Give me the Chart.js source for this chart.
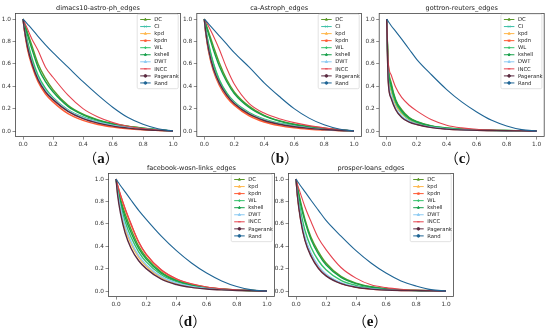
<!DOCTYPE html>
<html>
<head>
<meta charset="utf-8">
<script src="https://cdn.jsdelivr.net/npm/chart.js@4.4.1/dist/chart.umd.min.js"></script>
<style>
body{margin:0;width:550px;height:333px;background:#fff;position:relative;overflow:hidden}
canvas{position:absolute}
.lab{position:absolute;font-weight:bold;font-size:14px;transform:translate(-50%,-50%);white-space:nowrap;color:#111}
.lab .p{font-family:"Noto Sans CJK SC";font-weight:normal}
.lab .t{font-family:"Liberation Serif";font-weight:bold;font-size:15px}
</style>
</head>
<body>
<script>
// fraction of nodes removed (x) shared by all curves
var xs = [0, 0.01, 0.03, 0.06, 0.1, 0.15, 0.2, 0.3, 0.4, 0.5, 0.6, 0.7, 0.8, 0.9, 1.0];
var tickVals = [0, 0.2, 0.4, 0.6, 0.8, 1.0];

// (a) dimacs10-astro-ph
var a_DC       = [1,0.96,0.88,0.76,0.6,0.47,0.37,0.23,0.15,0.1,0.065,0.042,0.025,0.011,0];
var a_CI       = [1,0.92,0.79,0.63,0.48,0.37,0.29,0.185,0.12,0.08,0.053,0.034,0.02,0.009,0];
var a_kpd      = [1,0.9,0.75,0.6,0.46,0.355,0.285,0.18,0.115,0.073,0.046,0.028,0.016,0.007,0];
var a_kpdn     = [1,0.89,0.73,0.58,0.44,0.33,0.26,0.155,0.095,0.058,0.035,0.02,0.011,0.005,0];
var a_WL       = [1,0.93,0.8,0.65,0.5,0.38,0.3,0.19,0.125,0.083,0.055,0.035,0.021,0.009,0];
var a_kshell   = [1,0.95,0.86,0.73,0.57,0.44,0.35,0.22,0.145,0.095,0.062,0.04,0.024,0.01,0];
var a_DWT      = [1,0.9,0.76,0.61,0.47,0.36,0.29,0.185,0.12,0.078,0.05,0.031,0.018,0.008,0];
var a_INCC     = [1,0.97,0.91,0.82,0.72,0.57,0.48,0.32,0.2,0.125,0.075,0.042,0.021,0.008,0];
var a_Pagerank = [1,0.9,0.75,0.6,0.46,0.35,0.28,0.175,0.11,0.07,0.043,0.026,0.014,0.006,0];
var a_Rand     = [1,0.985,0.955,0.91,0.845,0.77,0.7,0.57,0.44,0.32,0.21,0.12,0.06,0.02,0];

// (b) ca-Astroph
var b_DC       = [1,0.96,0.88,0.76,0.61,0.46,0.35,0.22,0.14,0.092,0.06,0.04,0.025,0.011,0];
var b_CI       = [1,0.9,0.76,0.6,0.45,0.335,0.255,0.16,0.1,0.067,0.044,0.029,0.017,0.008,0];
var b_kpd      = [1,0.88,0.71,0.55,0.42,0.31,0.24,0.145,0.09,0.057,0.036,0.022,0.012,0.005,0];
var b_kpdn     = [1,0.87,0.7,0.54,0.41,0.3,0.23,0.135,0.08,0.048,0.028,0.016,0.008,0.003,0];
var b_WL       = [1,0.91,0.77,0.61,0.46,0.34,0.26,0.165,0.105,0.07,0.046,0.03,0.018,0.008,0];
var b_kshell   = [1,0.95,0.86,0.73,0.58,0.44,0.335,0.21,0.135,0.088,0.058,0.038,0.023,0.01,0];
var b_DWT      = [1,0.88,0.72,0.56,0.43,0.32,0.25,0.155,0.1,0.065,0.042,0.026,0.014,0.006,0];
var b_INCC     = [1,0.98,0.93,0.85,0.73,0.56,0.42,0.245,0.16,0.11,0.075,0.048,0.028,0.012,0];
var b_Pagerank = [1,0.88,0.72,0.56,0.43,0.32,0.245,0.15,0.094,0.06,0.038,0.023,0.013,0.005,0];
var b_Rand     = [1,0.985,0.955,0.91,0.85,0.775,0.7,0.57,0.43,0.31,0.2,0.115,0.055,0.018,0];

// (c) gottron-reuters
var c_DC       = [1,0.6,0.43,0.28,0.19,0.12,0.085,0.045,0.027,0.017,0.011,0.007,0.004,0.002,0];
var c_CI       = [1,0.53,0.36,0.235,0.155,0.1,0.07,0.038,0.022,0.013,0.008,0.005,0.003,0.001,0];
var c_kpd      = [1,0.54,0.37,0.24,0.16,0.105,0.074,0.04,0.023,0.014,0.009,0.005,0.003,0.001,0];
var c_kpdn     = [1,0.46,0.3,0.195,0.125,0.083,0.06,0.032,0.018,0.011,0.006,0.004,0.002,0.001,0];
var c_WL       = [1,0.56,0.39,0.255,0.17,0.11,0.078,0.042,0.025,0.015,0.01,0.006,0.003,0.001,0];
var c_kshell   = [1,0.58,0.41,0.27,0.18,0.115,0.082,0.044,0.026,0.016,0.01,0.006,0.004,0.002,0];
var c_DWT      = [1,0.48,0.31,0.2,0.13,0.086,0.062,0.033,0.019,0.011,0.007,0.004,0.002,0.001,0];
var c_INCC     = [1,0.62,0.5,0.39,0.3,0.23,0.18,0.1,0.052,0.028,0.015,0.009,0.005,0.002,0];
var c_Pagerank = [1,0.45,0.29,0.19,0.12,0.08,0.058,0.03,0.017,0.01,0.006,0.004,0.002,0.001,0];
var c_Rand     = [1,0.98,0.94,0.89,0.82,0.73,0.64,0.5,0.37,0.26,0.17,0.095,0.045,0.012,0];

// (d) facebook-wosn-links (no CI)
var d_DC       = [1,0.93,0.82,0.69,0.55,0.4,0.3,0.17,0.098,0.056,0.032,0.018,0.009,0.004,0];
var d_kpd      = [1,0.88,0.72,0.56,0.42,0.3,0.222,0.12,0.067,0.038,0.021,0.012,0.006,0.002,0];
var d_kpdn     = [1,0.945,0.85,0.73,0.59,0.435,0.325,0.185,0.107,0.062,0.035,0.019,0.01,0.004,0];
var d_WL       = [1,0.91,0.77,0.62,0.48,0.35,0.26,0.145,0.083,0.048,0.027,0.015,0.008,0.003,0];
var d_kshell   = [1,0.92,0.8,0.66,0.52,0.38,0.285,0.16,0.092,0.053,0.03,0.017,0.009,0.004,0];
var d_DWT      = [1,0.89,0.74,0.58,0.44,0.315,0.235,0.128,0.072,0.041,0.023,0.013,0.007,0.003,0];
var d_INCC     = [1,0.95,0.86,0.74,0.6,0.44,0.33,0.19,0.11,0.064,0.036,0.02,0.01,0.004,0];
var d_Pagerank = [1,0.86,0.69,0.52,0.38,0.27,0.2,0.105,0.058,0.032,0.018,0.01,0.005,0.002,0];
var d_Rand     = [1,0.98,0.94,0.885,0.81,0.72,0.64,0.49,0.36,0.25,0.16,0.09,0.04,0.01,0];

// (e) prosper-loans (no CI)
var e_DC       = [1,0.93,0.8,0.64,0.48,0.35,0.25,0.13,0.07,0.038,0.02,0.011,0.006,0.002,0];
var e_kpd      = [1,0.85,0.66,0.47,0.33,0.215,0.145,0.07,0.036,0.019,0.01,0.006,0.003,0.001,0];
var e_kpdn     = [1,0.85,0.65,0.46,0.32,0.21,0.14,0.068,0.035,0.018,0.01,0.005,0.003,0.001,0];
var e_WL       = [1,0.88,0.72,0.54,0.39,0.27,0.19,0.095,0.05,0.026,0.014,0.008,0.004,0.002,0];
var e_kshell   = [1,0.92,0.78,0.62,0.46,0.33,0.235,0.122,0.066,0.036,0.019,0.01,0.005,0.002,0];
var e_DWT      = [1,0.86,0.67,0.48,0.34,0.225,0.152,0.074,0.038,0.02,0.011,0.006,0.003,0.001,0];
var e_INCC     = [1,0.95,0.87,0.75,0.62,0.47,0.37,0.21,0.115,0.055,0.03,0.016,0.008,0.003,0];
var e_Pagerank = [1,0.84,0.64,0.45,0.31,0.2,0.135,0.065,0.033,0.017,0.009,0.005,0.003,0.001,0];
var e_Rand     = [1,0.98,0.94,0.885,0.81,0.72,0.63,0.49,0.36,0.25,0.16,0.09,0.045,0.012,0];

var colors = {
    DC:'#5b9a2a', CI:'#3bbfa7', kpd:'#ffb84d', kpdn:'#ff5a33', WL:'#33c26b',
    kshell:'#17a04a', DWT:'#8ccaf2', INCC:'#e5434f', Pagerank:'#5a2a40', Rand:'#1f6595'
};
var marks = {
    DC:'triangle', CI:'crossRot', kpd:'triangle', kpdn:'star', WL:'cross',
    kshell:'rectRot', DWT:'triangle', INCC:'line', Pagerank:'circle', Rand:'circle'
};

var panels = [
    {title:'dimacs10-astro-ph_edges', lab:'a', lx:101, ly:157, l:15.5, t:13.4, r:180.5, b:136.6,
     series:{DC:a_DC, CI:a_CI, kpd:a_kpd, kpdn:a_kpdn, WL:a_WL, kshell:a_kshell, DWT:a_DWT, INCC:a_INCC, Pagerank:a_Pagerank, Rand:a_Rand}},
    {title:'ca-Astroph_edges', lab:'b', lx:280, ly:157, l:196.8, t:13.4, r:361.5, b:136.6,
     series:{DC:b_DC, CI:b_CI, kpd:b_kpd, kpdn:b_kpdn, WL:b_WL, kshell:b_kshell, DWT:b_DWT, INCC:b_INCC, Pagerank:b_Pagerank, Rand:b_Rand}},
    {title:'gottron-reuters_edges', lab:'c', lx:462, ly:157, l:379.2, t:13.4, r:544.2, b:136.6,
     series:{DC:c_DC, CI:c_CI, kpd:c_kpd, kpdn:c_kpdn, WL:c_WL, kshell:c_kshell, DWT:c_DWT, INCC:c_INCC, Pagerank:c_Pagerank, Rand:c_Rand}},
    {title:'facebook-wosn-links_edges', lab:'d', lx:188, ly:320, l:108.5, t:173.4, r:274.5, b:296.6,
     series:{DC:d_DC, kpd:d_kpd, kpdn:d_kpdn, WL:d_WL, kshell:d_kshell, DWT:d_DWT, INCC:d_INCC, Pagerank:d_Pagerank, Rand:d_Rand}},
    {title:'prosper-loans_edges', lab:'e', lx:370, ly:320, l:288.5, t:173.4, r:453.5, b:296.6,
     series:{DC:e_DC, kpd:e_kpd, kpdn:e_kpdn, WL:e_WL, kshell:e_kshell, DWT:e_DWT, INCC:e_INCC, Pagerank:e_Pagerank, Rand:e_Rand}}
];

Chart.defaults.font.family = 'DejaVu Sans';
Chart.defaults.color = '#333';

// axes box, title and in-plot legend drawn like matplotlib
var figPlugin = {
    id:'fig',
    afterDatasetsDraw: function(chart){
        var ctx = chart.ctx, ca = chart.chartArea, p = chart.options.plugins.fig;
        ctx.save();
        ctx.strokeStyle = '#444';
        ctx.lineWidth = 0.8;
        ctx.strokeRect(ca.left, ca.top, ca.right - ca.left, ca.bottom - ca.top);
        ctx.fillStyle = '#222';
        ctx.font = '6.5px "DejaVu Sans"';
        ctx.textAlign = 'center';
        ctx.textBaseline = 'middle';
        ctx.fillText(p.title, (ca.left + ca.right) / 2, ca.top - 5.5);

        // legend
        var names = chart.data.datasets.map(function(d){ return d.label; });
        var step = 7.05, w = 41;
        var bx = ca.right - 2.3 - w, by = ca.top + 0.8;
        var h = names.length * step + 4;
        ctx.fillStyle = 'rgba(255,255,255,0.85)';
        ctx.strokeStyle = '#cfcfcf';
        ctx.lineWidth = 0.6;
        ctx.beginPath();
        ctx.roundRect(bx, by, w, h, 1.5);
        ctx.fill();
        ctx.stroke();
        ctx.font = '5.3px "DejaVu Sans"';
        ctx.textAlign = 'left';
        names.forEach(function(n, i){
            var y = by + 5.3 + i * step;
            ctx.strokeStyle = colors[n];
            ctx.lineWidth = 1;
            ctx.beginPath();
            ctx.moveTo(bx + 3, y);
            ctx.lineTo(bx + 13.5, y);
            ctx.stroke();
            ctx.fillStyle = colors[n];
            Chart.helpers.drawPoint(ctx, {pointStyle: marks[n], radius: 1.3, borderWidth: 0.8}, bx + 8.2, y);
            ctx.fillStyle = '#222';
            ctx.fillText(n, bx + 17, y + 0.3);
        });
        ctx.restore();
    }
};

panels.forEach(function(p){
    var cl = Math.floor(p.l) - 18, ct = Math.floor(p.t) - 14;
    var cw = Math.ceil(p.r) + 4 - cl, ch = Math.ceil(p.b) + 14 - ct;
    var cv = document.createElement('canvas');
    cv.width = cw; cv.height = ch;
    cv.style.left = cl + 'px'; cv.style.top = ct + 'px';
    cv.style.width = cw + 'px'; cv.style.height = ch + 'px';
    document.body.appendChild(cv);

    var lab = document.createElement('div');
    lab.className = 'lab';
    lab.innerHTML = '<span class="p">（</span><span class="t">' + p.lab + '</span><span class="p">）</span>';
    lab.style.left = p.lx + 'px'; lab.style.top = p.ly + 'px';
    document.body.appendChild(lab);

    var names = Object.keys(p.series);
    var datasets = names.map(function(n, i){
        return {
            label: n,
            data: xs.map(function(x, k){ return {x: x, y: p.series[n][k]}; }),
            borderColor: colors[n],
            backgroundColor: colors[n],
            borderWidth: n == 'Rand' || n == 'INCC' ? 1.1 : 1.4,
            pointRadius: 0,
            cubicInterpolationMode: 'monotone',
            order: names.length - i
        };
    });

    var yW = p.l - cl;
    var xH = ch - (p.b - ct);
    var axisBase = function(isX){
        return {
            type: 'linear',
            min: -0.05, max: 1.05,
            afterBuildTicks: function(s){ s.ticks = tickVals.map(function(v){ return {value: v}; }); },
            afterFit: function(s){ if (isX) s.height = xH; else s.width = yW; },
            border: {display: false},
            grid: {drawOnChartArea: false, drawTicks: true, tickLength: 3, color: '#444', lineWidth: 0.6},
            ticks: {font: {size: 5.8}, color: '#333', padding: 1.5, maxRotation: 0,
                    callback: function(v){ return Number(v).toFixed(1); }}
        };
    };

    new Chart(cv.getContext('2d'), {
        type: 'line',
        data: {datasets: datasets},
        options: {
            responsive: false,
            animation: false,
            devicePixelRatio: 1,
            layout: {padding: {left: 0, top: p.t - ct, right: cw - (p.r - cl), bottom: 0}},
            scales: {x: axisBase(true), y: axisBase(false)},
            plugins: {legend: {display: false}, tooltip: {enabled: false}, fig: {title: p.title}}
        },
        plugins: [figPlugin]
    });
});
</script>
</body>
</html>
